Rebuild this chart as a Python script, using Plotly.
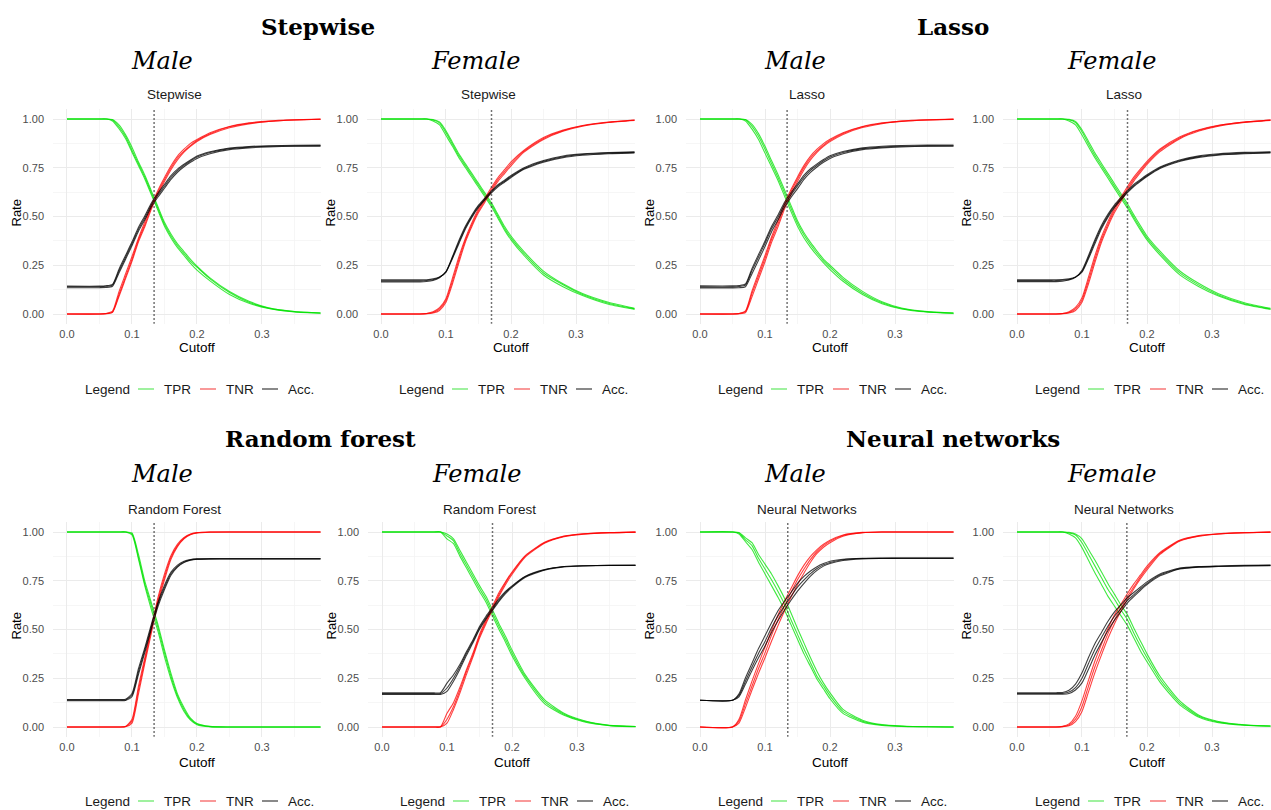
import plotly.graph_objects as go

# ---------------- data ----------------
CUTOFF = [0, 0.05, 0.06, 0.07, 0.08, 0.09, 0.10, 0.11, 0.12, 0.13, 0.14, 0.15,
          0.16, 0.17, 0.18, 0.19, 0.20, 0.22, 0.25, 0.28, 0.31, 0.35, 0.40]

MODELS = ["Stepwise", "Stepwise", "Lasso", "Lasso",
          "Random Forest", "Random Forest", "Neural Networks", "Neural Networks"]
SEXES = ["Male", "Female", "Male", "Female", "Male", "Female", "Male", "Female"]
SECTION_TITLES = ["Stepwise", "Lasso", "Random forest", "Neural networks"]
OPTIMAL_CUTOFF = [0.134, 0.17, 0.134, 0.17, 0.134, 0.17, 0.135, 0.169]
METRIC_NAMES = ["TPR", "TNR", "Acc."]

# Stepwise - Male
STEP_M_TPR = [
    [1, 1, 1, 0.995, 0.96, 0.91, 0.84, 0.77, 0.70, 0.62, 0.54, 0.46, 0.40, 0.35, 0.31, 0.27, 0.24, 0.18, 0.11, 0.06, 0.03, 0.012, 0.004],
    [1, 1, 1, 0.99, 0.95, 0.90, 0.83, 0.76, 0.69, 0.61, 0.53, 0.45, 0.39, 0.34, 0.30, 0.26, 0.225, 0.17, 0.10, 0.055, 0.028, 0.01, 0.003],
    [1, 1, 1, 0.998, 0.97, 0.92, 0.855, 0.78, 0.71, 0.63, 0.55, 0.47, 0.41, 0.36, 0.32, 0.28, 0.245, 0.185, 0.115, 0.065, 0.032, 0.013, 0.004],
]
STEP_M_TNR = [
    [0, 0, 0.002, 0.01, 0.10, 0.19, 0.28, 0.38, 0.46, 0.55, 0.625, 0.69, 0.75, 0.80, 0.835, 0.865, 0.89, 0.925, 0.96, 0.978, 0.988, 0.995, 0.999],
    [0, 0, 0.001, 0.008, 0.09, 0.18, 0.27, 0.37, 0.45, 0.54, 0.615, 0.68, 0.74, 0.79, 0.83, 0.86, 0.885, 0.92, 0.955, 0.975, 0.987, 0.995, 0.999],
    [0, 0, 0.003, 0.015, 0.115, 0.205, 0.295, 0.39, 0.475, 0.56, 0.635, 0.70, 0.76, 0.81, 0.845, 0.875, 0.895, 0.93, 0.962, 0.98, 0.99, 0.996, 1.0],
]
STEP_M_ACC = [
    [0.14, 0.14, 0.142, 0.148, 0.22, 0.29, 0.36, 0.435, 0.495, 0.56, 0.61, 0.655, 0.70, 0.735, 0.762, 0.785, 0.805, 0.828, 0.848, 0.856, 0.86, 0.862, 0.863],
    [0.135, 0.135, 0.136, 0.142, 0.21, 0.28, 0.35, 0.425, 0.485, 0.55, 0.60, 0.645, 0.69, 0.727, 0.755, 0.778, 0.798, 0.822, 0.843, 0.852, 0.857, 0.86, 0.861],
    [0.143, 0.143, 0.145, 0.152, 0.23, 0.30, 0.37, 0.445, 0.505, 0.57, 0.62, 0.665, 0.71, 0.743, 0.768, 0.79, 0.81, 0.832, 0.851, 0.859, 0.863, 0.865, 0.866],
]

# Stepwise - Female
STEP_F_TPR = [
    [1, 1, 1, 1, 0.995, 0.98, 0.93, 0.87, 0.81, 0.76, 0.71, 0.66, 0.61, 0.56, 0.50, 0.44, 0.39, 0.31, 0.21, 0.15, 0.10, 0.055, 0.02],
    [1, 1, 1, 1, 0.99, 0.97, 0.915, 0.86, 0.80, 0.75, 0.70, 0.65, 0.60, 0.55, 0.49, 0.43, 0.38, 0.30, 0.20, 0.14, 0.095, 0.05, 0.018],
    [1, 1, 1, 1, 0.997, 0.985, 0.94, 0.88, 0.82, 0.77, 0.72, 0.67, 0.62, 0.57, 0.51, 0.45, 0.40, 0.32, 0.22, 0.155, 0.105, 0.06, 0.022],
]
STEP_F_TNR = [
    [0, 0, 0, 0.002, 0.008, 0.025, 0.07, 0.17, 0.28, 0.38, 0.46, 0.53, 0.585, 0.64, 0.69, 0.73, 0.77, 0.835, 0.90, 0.94, 0.965, 0.983, 0.996],
    [0, 0, 0, 0.001, 0.005, 0.018, 0.06, 0.155, 0.265, 0.37, 0.45, 0.52, 0.575, 0.63, 0.68, 0.72, 0.76, 0.83, 0.895, 0.937, 0.963, 0.982, 0.995],
    [0, 0, 0, 0.003, 0.011, 0.032, 0.08, 0.185, 0.295, 0.39, 0.47, 0.54, 0.595, 0.65, 0.70, 0.74, 0.78, 0.84, 0.905, 0.943, 0.967, 0.985, 0.997],
]
STEP_F_ACC = [
    [0.17, 0.17, 0.17, 0.172, 0.176, 0.188, 0.216, 0.29, 0.37, 0.444, 0.503, 0.552, 0.59, 0.626, 0.658, 0.681, 0.705, 0.746, 0.783, 0.806, 0.818, 0.825, 0.83],
    [0.175, 0.175, 0.175, 0.176, 0.18, 0.19, 0.215, 0.285, 0.362, 0.437, 0.497, 0.546, 0.585, 0.621, 0.652, 0.676, 0.70, 0.742, 0.779, 0.802, 0.814, 0.822, 0.827],
    [0.165, 0.165, 0.165, 0.167, 0.172, 0.186, 0.218, 0.295, 0.378, 0.451, 0.509, 0.558, 0.596, 0.631, 0.663, 0.686, 0.71, 0.75, 0.787, 0.81, 0.821, 0.828, 0.832],
]

# Lasso - Male
LASSO_M_TPR = [
    [1, 1, 1, 0.996, 0.962, 0.912, 0.845, 0.772, 0.70, 0.622, 0.542, 0.465, 0.405, 0.355, 0.312, 0.272, 0.24, 0.178, 0.108, 0.058, 0.028, 0.011, 0.003],
    [1, 1, 1, 0.99, 0.948, 0.895, 0.825, 0.755, 0.685, 0.605, 0.525, 0.45, 0.39, 0.342, 0.30, 0.262, 0.228, 0.168, 0.10, 0.053, 0.026, 0.01, 0.003],
    [1, 1, 1, 0.998, 0.972, 0.925, 0.86, 0.787, 0.715, 0.637, 0.557, 0.478, 0.417, 0.367, 0.323, 0.282, 0.25, 0.188, 0.116, 0.063, 0.031, 0.012, 0.004],
]
LASSO_M_TNR = [
    [0, 0, 0.002, 0.012, 0.105, 0.195, 0.285, 0.382, 0.462, 0.552, 0.627, 0.692, 0.752, 0.80, 0.836, 0.866, 0.89, 0.926, 0.96, 0.978, 0.989, 0.995, 0.999],
    [0, 0, 0.001, 0.007, 0.088, 0.178, 0.268, 0.366, 0.447, 0.538, 0.613, 0.679, 0.74, 0.79, 0.829, 0.86, 0.884, 0.921, 0.956, 0.976, 0.987, 0.995, 0.999],
    [0, 0, 0.003, 0.016, 0.118, 0.21, 0.30, 0.395, 0.478, 0.565, 0.638, 0.703, 0.762, 0.81, 0.845, 0.874, 0.896, 0.93, 0.962, 0.98, 0.99, 0.996, 1.0],
]
LASSO_M_ACC = [
    [0.139, 0.139, 0.141, 0.148, 0.223, 0.292, 0.363, 0.437, 0.496, 0.561, 0.611, 0.657, 0.702, 0.737, 0.763, 0.786, 0.805, 0.828, 0.848, 0.856, 0.86, 0.862, 0.863],
    [0.134, 0.134, 0.135, 0.14, 0.207, 0.276, 0.346, 0.421, 0.482, 0.547, 0.598, 0.643, 0.69, 0.726, 0.754, 0.778, 0.798, 0.822, 0.843, 0.852, 0.857, 0.86, 0.861],
    [0.144, 0.144, 0.146, 0.154, 0.234, 0.305, 0.374, 0.449, 0.508, 0.573, 0.622, 0.667, 0.712, 0.745, 0.77, 0.792, 0.811, 0.833, 0.852, 0.86, 0.864, 0.866, 0.867],
]

# Lasso - Female
LASSO_F_TPR = [
    [1, 1, 1, 1, 0.996, 0.982, 0.935, 0.872, 0.812, 0.76, 0.708, 0.656, 0.605, 0.553, 0.495, 0.44, 0.39, 0.312, 0.212, 0.148, 0.098, 0.053, 0.02],
    [1, 1, 1, 1, 0.99, 0.97, 0.918, 0.858, 0.80, 0.748, 0.696, 0.644, 0.593, 0.542, 0.485, 0.43, 0.38, 0.302, 0.202, 0.14, 0.092, 0.049, 0.018],
    [1, 1, 1, 1, 0.998, 0.988, 0.945, 0.885, 0.825, 0.772, 0.72, 0.668, 0.617, 0.565, 0.507, 0.452, 0.40, 0.322, 0.222, 0.156, 0.104, 0.058, 0.023],
]
LASSO_F_TNR = [
    [0, 0, 0, 0.002, 0.008, 0.026, 0.072, 0.172, 0.282, 0.382, 0.462, 0.532, 0.588, 0.643, 0.693, 0.735, 0.775, 0.84, 0.903, 0.942, 0.966, 0.984, 0.996],
    [0, 0, 0, 0.001, 0.005, 0.018, 0.06, 0.155, 0.265, 0.368, 0.449, 0.52, 0.577, 0.632, 0.683, 0.726, 0.767, 0.833, 0.898, 0.938, 0.963, 0.982, 0.995],
    [0, 0, 0, 0.003, 0.012, 0.034, 0.084, 0.19, 0.30, 0.396, 0.475, 0.544, 0.60, 0.654, 0.703, 0.744, 0.783, 0.846, 0.908, 0.945, 0.968, 0.985, 0.997],
]
LASSO_F_ACC = [
    [0.171, 0.171, 0.171, 0.173, 0.177, 0.189, 0.219, 0.291, 0.372, 0.446, 0.504, 0.553, 0.591, 0.628, 0.66, 0.685, 0.709, 0.75, 0.786, 0.807, 0.818, 0.825, 0.83],
    [0.176, 0.176, 0.176, 0.177, 0.18, 0.19, 0.214, 0.283, 0.361, 0.437, 0.497, 0.546, 0.585, 0.622, 0.655, 0.681, 0.705, 0.746, 0.782, 0.803, 0.815, 0.822, 0.827],
    [0.166, 0.166, 0.166, 0.168, 0.174, 0.188, 0.224, 0.30, 0.382, 0.455, 0.512, 0.56, 0.598, 0.634, 0.666, 0.69, 0.714, 0.754, 0.79, 0.811, 0.822, 0.829, 0.833],
]

# Random forest - Male
RF_M_TPR = [
    [1, 1, 1, 1, 1, 1, 0.99, 0.87, 0.73, 0.62, 0.51, 0.38, 0.26, 0.16, 0.09, 0.04, 0.015, 0.002, 0, 0, 0, 0, 0],
    [1, 1, 1, 1, 1, 1, 0.985, 0.86, 0.72, 0.60, 0.49, 0.36, 0.245, 0.15, 0.08, 0.035, 0.012, 0.001, 0, 0, 0, 0, 0],
    [1, 1, 1, 1, 1, 1, 0.995, 0.885, 0.745, 0.635, 0.525, 0.395, 0.275, 0.17, 0.10, 0.045, 0.018, 0.003, 0, 0, 0, 0, 0],
]
RF_M_TNR = [
    [0, 0, 0, 0, 0, 0.002, 0.03, 0.19, 0.345, 0.50, 0.65, 0.77, 0.87, 0.93, 0.968, 0.988, 0.996, 1, 1, 1, 1, 1, 1],
    [0, 0, 0, 0, 0, 0.001, 0.02, 0.17, 0.33, 0.485, 0.635, 0.755, 0.86, 0.925, 0.965, 0.986, 0.995, 0.999, 1, 1, 1, 1, 1],
    [0, 0, 0, 0, 0, 0.003, 0.04, 0.21, 0.36, 0.515, 0.665, 0.785, 0.88, 0.938, 0.972, 0.99, 0.997, 1, 1, 1, 1, 1, 1],
]
RF_M_ACC = [
    [0.138, 0.138, 0.138, 0.138, 0.138, 0.139, 0.163, 0.284, 0.398, 0.517, 0.63, 0.716, 0.786, 0.824, 0.846, 0.857, 0.861, 0.862, 0.862, 0.862, 0.862, 0.862, 0.862],
    [0.135, 0.135, 0.135, 0.135, 0.135, 0.136, 0.155, 0.27, 0.385, 0.505, 0.618, 0.705, 0.778, 0.82, 0.843, 0.855, 0.86, 0.862, 0.863, 0.863, 0.863, 0.863, 0.863],
    [0.141, 0.141, 0.141, 0.141, 0.141, 0.142, 0.172, 0.30, 0.41, 0.53, 0.64, 0.727, 0.794, 0.83, 0.85, 0.859, 0.862, 0.863, 0.863, 0.863, 0.863, 0.863, 0.863],
]

# Random forest - Female
RF_F_TPR = [
    [1, 1, 1, 1, 1, 1, 0.98, 0.955, 0.89, 0.83, 0.77, 0.71, 0.655, 0.585, 0.515, 0.45, 0.38, 0.26, 0.13, 0.065, 0.03, 0.008, 0.002],
    [1, 1, 1, 1, 1, 1, 0.965, 0.94, 0.875, 0.815, 0.755, 0.695, 0.64, 0.57, 0.50, 0.435, 0.365, 0.25, 0.12, 0.06, 0.027, 0.007, 0.001],
    [1, 1, 1, 1, 1, 1, 0.99, 0.965, 0.905, 0.845, 0.785, 0.725, 0.67, 0.60, 0.53, 0.465, 0.395, 0.27, 0.14, 0.07, 0.033, 0.009, 0.002],
]
RF_F_TNR = [
    [0, 0, 0, 0, 0, 0.001, 0.04, 0.105, 0.19, 0.285, 0.37, 0.465, 0.54, 0.61, 0.68, 0.74, 0.79, 0.875, 0.945, 0.978, 0.99, 0.997, 1],
    [0, 0, 0, 0, 0, 0.001, 0.07, 0.125, 0.205, 0.295, 0.38, 0.475, 0.55, 0.62, 0.69, 0.745, 0.795, 0.878, 0.947, 0.979, 0.991, 0.997, 1],
    [0, 0, 0, 0, 0, 0, 0.02, 0.09, 0.175, 0.27, 0.36, 0.455, 0.53, 0.60, 0.67, 0.73, 0.782, 0.87, 0.942, 0.976, 0.989, 0.996, 1],
]
RF_F_ACC = [
    [0.171, 0.171, 0.171, 0.171, 0.171, 0.172, 0.20, 0.25, 0.31, 0.378, 0.44, 0.507, 0.56, 0.605, 0.65, 0.69, 0.72, 0.77, 0.806, 0.823, 0.827, 0.829, 0.83],
    [0.175, 0.175, 0.175, 0.175, 0.175, 0.176, 0.225, 0.268, 0.322, 0.387, 0.447, 0.515, 0.568, 0.613, 0.658, 0.695, 0.724, 0.772, 0.807, 0.823, 0.827, 0.829, 0.83],
    [0.167, 0.167, 0.167, 0.167, 0.167, 0.167, 0.183, 0.235, 0.298, 0.368, 0.432, 0.50, 0.553, 0.598, 0.644, 0.684, 0.716, 0.767, 0.804, 0.821, 0.826, 0.828, 0.829],
]

# Neural networks - Male
NN_M_TPR = [
    [1, 1, 0.995, 0.96, 0.93, 0.865, 0.81, 0.755, 0.695, 0.63, 0.55, 0.475, 0.40, 0.33, 0.26, 0.21, 0.16, 0.08, 0.03, 0.01, 0.004, 0.001, 0],
    [1, 1, 0.99, 0.95, 0.91, 0.845, 0.785, 0.725, 0.665, 0.60, 0.525, 0.45, 0.375, 0.31, 0.245, 0.195, 0.145, 0.07, 0.025, 0.008, 0.003, 0.001, 0],
    [1, 1, 0.997, 0.97, 0.945, 0.885, 0.835, 0.785, 0.725, 0.66, 0.585, 0.505, 0.43, 0.355, 0.285, 0.225, 0.175, 0.09, 0.035, 0.012, 0.005, 0.001, 0],
]
NN_M_TNR = [
    [0, 0, 0.03, 0.12, 0.21, 0.30, 0.38, 0.47, 0.55, 0.62, 0.69, 0.755, 0.81, 0.86, 0.90, 0.93, 0.952, 0.982, 0.997, 1, 1, 1, 1],
    [0, 0, 0.02, 0.10, 0.19, 0.275, 0.355, 0.44, 0.52, 0.595, 0.665, 0.73, 0.79, 0.845, 0.89, 0.922, 0.945, 0.978, 0.996, 1, 1, 1, 1],
    [0, 0, 0.04, 0.14, 0.235, 0.325, 0.41, 0.495, 0.575, 0.645, 0.71, 0.775, 0.83, 0.875, 0.91, 0.937, 0.958, 0.985, 0.998, 1, 1, 1, 1],
]
NN_M_ACC = [
    [0.137, 0.137, 0.162, 0.236, 0.308, 0.377, 0.439, 0.509, 0.57, 0.621, 0.67, 0.717, 0.754, 0.787, 0.813, 0.832, 0.844, 0.858, 0.864, 0.865, 0.865, 0.865, 0.865],
    [0.137, 0.137, 0.155, 0.22, 0.29, 0.355, 0.415, 0.485, 0.545, 0.60, 0.65, 0.697, 0.737, 0.774, 0.803, 0.825, 0.838, 0.854, 0.862, 0.864, 0.865, 0.865, 0.865],
    [0.137, 0.137, 0.17, 0.253, 0.327, 0.402, 0.468, 0.534, 0.596, 0.645, 0.69, 0.737, 0.772, 0.80, 0.822, 0.838, 0.85, 0.86, 0.865, 0.866, 0.866, 0.866, 0.866],
]

# Neural networks - Female
NN_F_TPR = [
    [1, 1, 1, 1, 0.995, 0.985, 0.945, 0.885, 0.825, 0.765, 0.705, 0.655, 0.60, 0.55, 0.48, 0.415, 0.355, 0.245, 0.125, 0.055, 0.025, 0.01, 0.004],
    [1, 1, 1, 1, 0.99, 0.97, 0.92, 0.855, 0.79, 0.73, 0.67, 0.62, 0.57, 0.52, 0.455, 0.39, 0.335, 0.23, 0.115, 0.05, 0.022, 0.009, 0.003],
    [1, 1, 1, 1, 0.998, 0.99, 0.965, 0.91, 0.855, 0.795, 0.735, 0.68, 0.625, 0.575, 0.505, 0.44, 0.375, 0.26, 0.135, 0.06, 0.028, 0.011, 0.004],
]
NN_F_TNR = [
    [0, 0, 0, 0.002, 0.01, 0.04, 0.105, 0.21, 0.31, 0.395, 0.48, 0.55, 0.61, 0.67, 0.72, 0.77, 0.815, 0.89, 0.955, 0.98, 0.99, 0.996, 1],
    [0, 0, 0, 0.001, 0.006, 0.028, 0.08, 0.18, 0.28, 0.37, 0.455, 0.53, 0.595, 0.655, 0.71, 0.76, 0.805, 0.885, 0.952, 0.978, 0.99, 0.996, 1],
    [0, 0, 0, 0.004, 0.016, 0.055, 0.135, 0.24, 0.34, 0.425, 0.505, 0.575, 0.63, 0.685, 0.735, 0.78, 0.825, 0.895, 0.958, 0.982, 0.991, 0.997, 1],
]
NN_F_ACC = [
    [0.172, 0.172, 0.172, 0.172, 0.179, 0.202, 0.25, 0.326, 0.399, 0.459, 0.518, 0.568, 0.608, 0.65, 0.679, 0.709, 0.736, 0.779, 0.812, 0.821, 0.824, 0.827, 0.829],
    [0.168, 0.168, 0.168, 0.168, 0.172, 0.19, 0.226, 0.296, 0.37, 0.434, 0.495, 0.548, 0.593, 0.637, 0.67, 0.701, 0.73, 0.775, 0.81, 0.82, 0.823, 0.826, 0.828],
    [0.176, 0.176, 0.176, 0.177, 0.188, 0.22, 0.278, 0.356, 0.428, 0.485, 0.542, 0.59, 0.627, 0.664, 0.691, 0.718, 0.744, 0.785, 0.815, 0.823, 0.826, 0.829, 0.831],
]

PANEL_DATA = [
    (STEP_M_TPR, STEP_M_TNR, STEP_M_ACC),
    (STEP_F_TPR, STEP_F_TNR, STEP_F_ACC),
    (LASSO_M_TPR, LASSO_M_TNR, LASSO_M_ACC),
    (LASSO_F_TPR, LASSO_F_TNR, LASSO_F_ACC),
    (RF_M_TPR, RF_M_TNR, RF_M_ACC),
    (RF_F_TPR, RF_F_TNR, RF_F_ACC),
    (NN_M_TPR, NN_M_TNR, NN_M_ACC),
    (NN_F_TPR, NN_F_TNR, NN_F_ACC),
]

X_TICKS = [0, 0.1, 0.2, 0.3]
X_TICK_LABELS = ["0.0", "0.1", "0.2", "0.3"]
Y_TICKS = [0, 0.25, 0.5, 0.75, 1.0]
Y_TICK_LABELS = ["0.00", "0.25", "0.50", "0.75", "1.00"]

# ---------------- layout / style ----------------
W, H = 1271, 810
SANS = "Liberation Sans, Arial, sans-serif"
SERIF = "DejaVu Serif, serif"
COLORS = ["rgba(0,225,0,0.75)", "rgba(255,0,0,0.75)", "rgba(0,0,0,0.75)"]
KEY_COLORS = ["rgb(80,230,80)", "rgb(245,70,70)", "rgb(40,40,40)"]
X_RANGE = [-0.0215, 0.39]
Y_RANGE = [-0.05, 1.05]
PX_PER_X = 650.0

ZERO_PX = [67, 381, 700, 1017, 67, 382, 700, 1017]
ROW_TOP = [109.25, 522.25]
ROW_BOT = [323.75, 736.75]
SEX_Y = [61, 474]
SEC_Y = [26, 438]
TITLE_Y = [95, 509]
CUT_Y = [348, 762]
LEG_Y = [389, 801]
SEC_X = [318, 953, 320, 953]
# legend element offsets (px) from the legend's left edge
KEY_LINE_X = [(55, 71), (117, 133), (179, 195)]
KEY_TEXT_X = [79, 141, 203]


def px(p):
    return p / W


def py(p):
    return 1 - p / H


for tpr, tnr, acc in PANEL_DATA:
    for arr in (tpr, tnr, acc):
        for fold in arr:
            assert len(fold) == len(CUTOFF)

fig = go.Figure()
annotations = []
shapes = []
layout_axes = {}

for i in range(8):
    row = i // 4
    n = i + 1
    xa = "x" if n == 1 else f"x{n}"
    ya = "y" if n == 1 else f"y{n}"
    z = ZERO_PX[i]
    x0 = z + X_RANGE[0] * PX_PER_X
    x1 = min(W, z + X_RANGE[1] * PX_PER_X)

    for m, (name, arr) in enumerate(zip(METRIC_NAMES, PANEL_DATA[i])):
        for k, fold in enumerate(arr):
            fig.add_trace(go.Scatter(
                x=CUTOFF, y=fold, mode="lines", name=name,
                line=dict(color=COLORS[m], width=1.1, shape="spline", smoothing=0.6),
                xaxis=xa, yaxis=ya, showlegend=False, hoverinfo="skip",
            ))
    oc = OPTIMAL_CUTOFF[i]
    fig.add_trace(go.Scatter(
        x=[oc, oc], y=Y_RANGE, mode="lines", showlegend=False,
        line=dict(color="#444444", width=1.5, dash="1.5px,2.5px"),
        xaxis=xa, yaxis=ya, hoverinfo="skip",
    ))

    axis_common = dict(showline=False, zeroline=False, ticks="", showgrid=True,
                       gridcolor="#EBEBEB", gridwidth=1,
                       tickfont=dict(family=SANS, size=11, color="#4D4D4D"))
    layout_axes["xaxis" if n == 1 else f"xaxis{n}"] = dict(
        domain=[px(x0), px(x1)], range=X_RANGE, anchor=ya,
        tickvals=X_TICKS, ticktext=X_TICK_LABELS, ticklabelstandoff=2,
        minor=dict(tickvals=[0.05, 0.15, 0.25, 0.35], showgrid=True,
                   gridcolor="#F4F4F4", gridwidth=0.8),
        **axis_common)
    layout_axes["yaxis" if n == 1 else f"yaxis{n}"] = dict(
        domain=[py(ROW_BOT[row]), py(ROW_TOP[row])], range=Y_RANGE, anchor=xa,
        tickvals=Y_TICKS, ticktext=Y_TICK_LABELS, ticklabelstandoff=8,
        minor=dict(tickvals=[0.125, 0.375, 0.625, 0.875], showgrid=True,
                   gridcolor="#F4F4F4", gridwidth=0.8),
        **axis_common)

    # legend (drawn as text + short key lines, ggplot style)
    L = z + 16
    ly = py(LEG_Y[row])
    annotations.append(dict(text="Legend", x=px(L), y=ly, xref="paper", yref="paper",
                            showarrow=False, xanchor="left", yanchor="middle",
                            font=dict(family=SANS, size=13.5, color="#1A1A1A")))
    for m, name in enumerate(METRIC_NAMES):
        a, b = KEY_LINE_X[m]
        shapes.append(dict(type="line", xref="paper", yref="paper",
                           x0=px(L + a), x1=px(L + b), y0=ly, y1=ly,
                           line=dict(color=KEY_COLORS[m], width=1.1)))
        annotations.append(dict(text=name, x=px(L + KEY_TEXT_X[m]), y=ly,
                                xref="paper", yref="paper", showarrow=False,
                                xanchor="left", yanchor="middle",
                                font=dict(family=SANS, size=13.5, color="#1A1A1A")))

    # panel title
    annotations.append(dict(text=MODELS[i], x=px(z + 107), y=py(TITLE_Y[row]),
                            xref="paper", yref="paper", showarrow=False,
                            xanchor="center", yanchor="middle",
                            font=dict(family=SANS, size=13.5, color="#1A1A1A")))
    # sex label
    annotations.append(dict(text=SEXES[i], x=px(z + 95), y=py(SEX_Y[row]),
                            xref="paper", yref="paper", showarrow=False,
                            xanchor="center", yanchor="middle",
                            font=dict(family=SERIF, size=24, color="#000000", style="italic")))
    # axis titles
    annotations.append(dict(text="Cutoff", x=px(z + 130), y=py(CUT_Y[row]),
                            xref="paper", yref="paper", showarrow=False,
                            xanchor="center", yanchor="middle",
                            font=dict(family=SANS, size=13.5, color="#000000")))
    annotations.append(dict(text="Rate", x=px(z - 51), y=py((ROW_TOP[row] + ROW_BOT[row]) / 2 - 3),
                            xref="paper", yref="paper", showarrow=False, textangle=-90,
                            xanchor="center", yanchor="middle",
                            font=dict(family=SANS, size=13, color="#000000")))

for j, t in enumerate(SECTION_TITLES):
    annotations.append(dict(text=t, x=px(SEC_X[j]), y=py(SEC_Y[j // 2]),
                            xref="paper", yref="paper", showarrow=False,
                            xanchor="center", yanchor="middle",
                            font=dict(family=SERIF, size=23, color="#000000", weight="bold")))

fig.update_layout(
    width=W, height=H, margin=dict(l=0, r=0, t=0, b=0, autoexpand=False),
    paper_bgcolor="white", plot_bgcolor="white", showlegend=False,
    annotations=annotations, shapes=shapes, **layout_axes,
)

# remove the browser's default 8px page margin so the figure fills the window
PAGE_CSS_JS = ("document.body.style.margin='0px';"
               "document.body.style.overflow='hidden';"
               "document.documentElement.style.overflow='hidden';")
fig.write_html("out.html", post_script=PAGE_CSS_JS,
               config={"displayModeBar": False, "staticPlot": True})
